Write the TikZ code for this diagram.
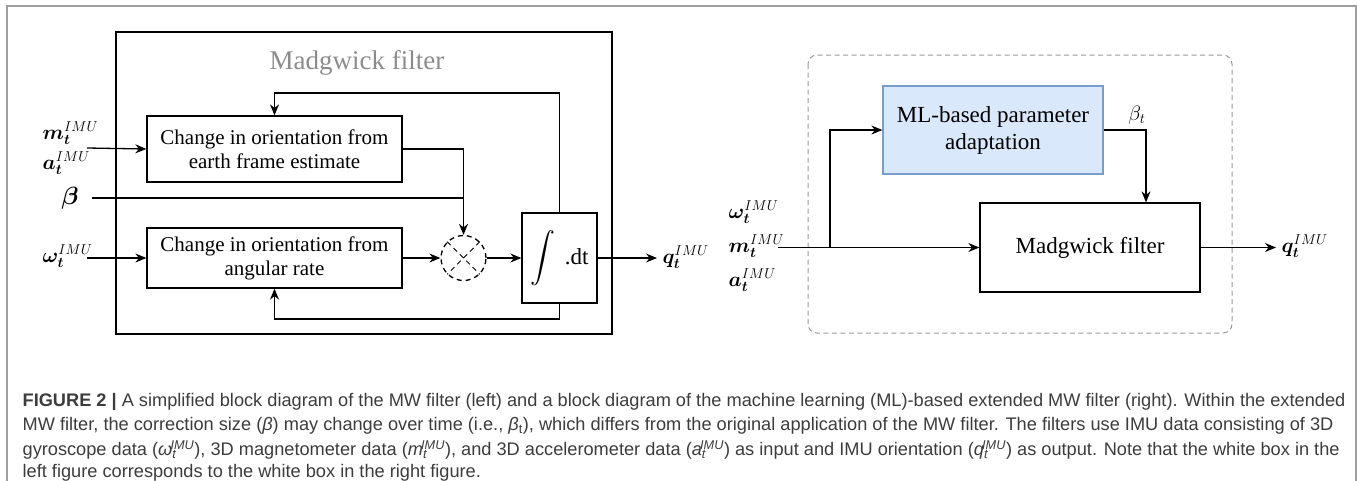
\documentclass[tikz,border=0pt]{standalone}
\usepackage{amsmath}
\usepackage{bm}
\usepackage{fontspec}
\setmainfont{Liberation Serif}
\newfontfamily\capfont{Liberation Sans}
\usetikzlibrary{arrows.meta}

\definecolor{mlfill}{HTML}{DAE8FC}
\definecolor{mldraw}{HTML}{7A9CC8}
\definecolor{capgray}{HTML}{3C3C3C}

\newcommand{\imu}[1]{\bm{#1}_{\bm{t}}^{IMU}}
\newcommand{\capsym}[1]{\textit{#1}\textsubscript{\textit{t}}\kern-0.35em\textsuperscript{\textit{IMU}}}

\begin{document}
\begin{tikzpicture}[>={Stealth[length=11pt,width=9pt]},x=1pt,y=-1pt,line width=1.3pt,
  block/.style={draw,align=center,inner sep=0pt},
  lblock/.style={block,minimum width=255pt,font=\fontsize{21}{24}\selectfont},
  rblock/.style={block,minimum width=220pt,font=\fontsize{23}{27}\selectfont},
  sig/.style={inner sep=0pt,font=\fontsize{20}{24}\selectfont},
  capline/.style={anchor=west,inner sep=0pt,text=capgray,font=\capfont\fontsize{18.2}{22}\selectfont}]
\useasboundingbox (0,0) rectangle (1357,480);
\draw[gray!75,line width=1.5pt] (7,484) -- (7,6) -- (1356,6) -- (1356,484);

% simplified MW filter (left)
\draw (116,32) rectangle (612,334);
\node[text=gray!90,font=\fontsize{27}{30}\selectfont] (title) at (357,63) {Madgwick filter};
\node[lblock,minimum height=66pt] (earth) at (274.5,149) {Change in orientation from\\earth frame estimate};
\node[lblock,minimum height=60pt] (rate)  at (274.5,258) {Change in orientation from\\angular rate};
\node[draw,circle,dashed,dash pattern=on 5pt off 4pt,minimum size=45pt,inner sep=0pt] (mul) at (463.5,258) {};
\draw[dashed,dash pattern=on 5pt off 4pt,line width=1pt] (mul.north east) -- (mul.south west)
  (mul.north west) -- (mul.south east);
\node[block,minimum width=75pt,minimum height=90pt,font=\fontsize{23}{27}\selectfont] (intg) at (559.5,258) {$\displaystyle\int$ \,.dt};

\node[sig,anchor=west] (m)    at (42,133) {$\imu{m}$};
\node[sig,anchor=west] (a)    at (42,163) {$\imu{a}$};
\node[sig,font=\fontsize{24}{26}\selectfont] (beta) at (70,198) {$\bm{\beta}$};
\node[sig,anchor=west] (w)    at (42,256) {$\imu{\omega}$};
\node[sig,anchor=west] (q)    at (662,257) {$\imu{q}$};

\coordinate (ma)  at (87,148);
\coordinate (bin) at (92,198);
\coordinate (win) at (87,258);
\coordinate (qo)  at (657,258);
\coordinate (fbt) at (559.5,93);
\coordinate (fbb) at (559.5,319);

\draw[->] (ma) -- (earth.west);
\draw[->] (win) -- (rate.west);
\draw[->] (earth.east) -| (mul.north);
\draw (bin) -- (bin -| mul.north);
\draw[->] (rate.east) -- (mul.west);
\draw[->] (mul.east) -- (intg.west);
\draw[->] (intg.east) -- (qo);
\draw[->] (intg.north) -- (fbt) -| (earth.north);
\draw[->] (intg.south) -- (fbb) -| (rate.south);

% extended MW filter (right)
\draw[gray!80,line width=1pt,dash pattern=on 5pt off 3.5pt,rounded corners=9pt] (808,55) rectangle (1232,333);
\node[rblock,fill=mlfill,draw=mldraw,minimum height=88pt] (ml) at (993,130) {ML-based parameter\\adaptation};
\node[rblock,minimum height=89pt] (mwr) at (1090,247.5) {Madgwick filter};

\node[sig,anchor=west] (w2) at (728,212) {$\imu{\omega}$};
\node[sig,anchor=west] (m2) at (728,246) {$\imu{m}$};
\node[sig,anchor=west] (a2) at (728,280) {$\imu{a}$};
\node[sig,font=\fontsize{22}{24}\selectfont] (bt) at (1137,115) {$\beta_t$};
\node[sig,anchor=west] (q2) at (1281,246) {$\imu{q}$};

\coordinate (inr) at (778,247.5);
\coordinate (br)  at (830,247.5);
\coordinate (btc) at (1146,130);
\coordinate (qr)  at (1276,247.5);

\draw[->] (inr) -- (mwr.west);
\draw[->] (br) |- (ml.west);
\draw[->] (ml.east) -- (btc) -- (btc |- mwr.north);
\draw[->] (mwr.east) -- (qr);

% caption
\node[capline] (c1) at (22,402) {\textbf{FIGURE 2 |} A simplified block diagram of the MW filter (left) and a block diagram of the machine learning (ML)-based extended MW filter (right). Within the extended};
\node[capline] (c2) at (22,426) {MW filter, the correction size (\textit{β}) may change over time (i.e., \textit{β}\textsubscript{t}), which differs from the original application of the MW filter. The filters use IMU data consisting of 3D};
\node[capline] (c3) at (22,450) {gyroscope data (\capsym{ω}), 3D magnetometer data (\capsym{m}), and 3D accelerometer data (\capsym{a}) as input and IMU orientation (\capsym{q}) as output. Note that the white box in the};
\node[capline] (c4) at (22,473) {left figure corresponds to the white box in the right figure.};
\end{tikzpicture}
\end{document}
